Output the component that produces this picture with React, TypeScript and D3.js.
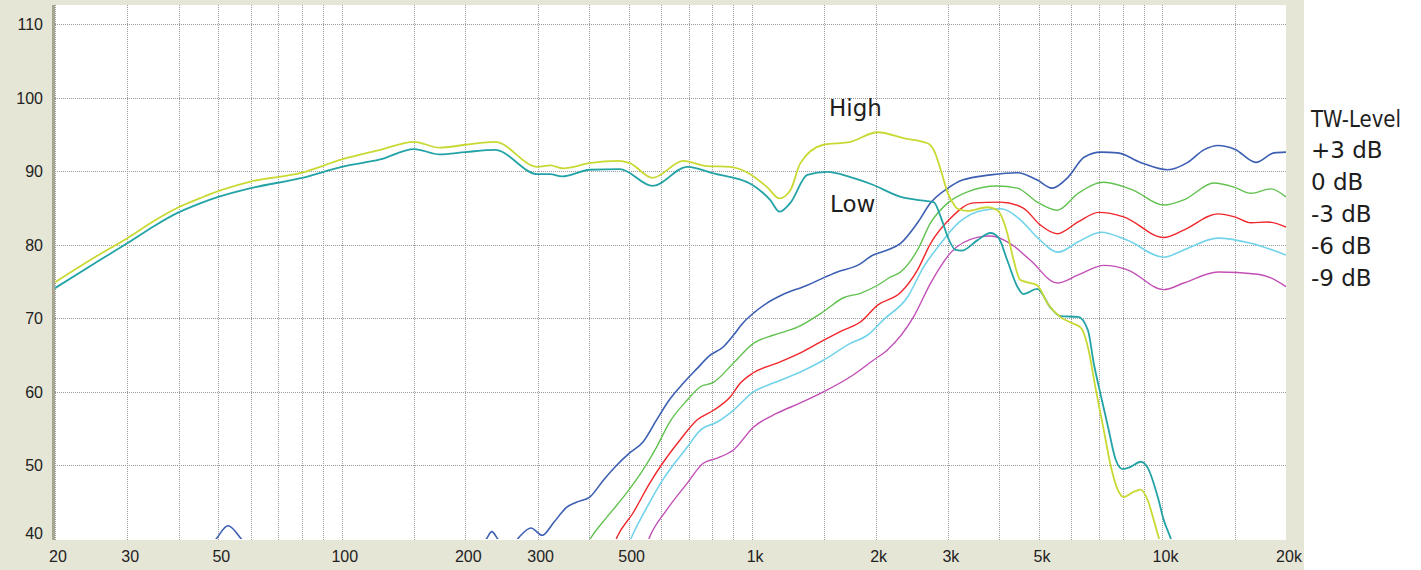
import React, { useEffect, useRef } from 'react';
import * as d3 from 'd3';

// frequency response curves, [Hz, dB]
const high: [number, number][] = [
  [20, 74.9], [25, 78.3], [30, 80.9], [35, 83.3], [40, 85.1], [45, 86.3], [50, 87.3],
  [60, 88.6], [80, 89.8], [100, 91.6], [124, 92.9], [150, 94.0], [173, 93.2], [200, 93.6],
  [236, 94.0], [300, 90.6], [322, 90.8], [346, 90.4], [402, 91.1], [470, 91.4], [503, 91.1],
  [572, 89.1], [680, 91.4], [777, 90.7], [884, 90.6], [990, 89.6], [1089, 87.8],
  [1166, 86.3], [1239, 87.4], [1311, 91.1], [1491, 93.6], [1735, 94.0], [2022, 95.3],
  [2339, 94.5], [2677, 93.8], [2770, 92.9], [2881, 90.2], [3000, 87.0], [3100, 85.5],
  [3165, 84.9], [3348, 84.6], [3745, 85.1], [3957, 84.7], [4185, 81.6], [4320, 78.3],
  [4505, 75.2], [4685, 74.9], [4952, 74.5], [5240, 72.1], [5630, 70.2], [5990, 69.4],
  [6330, 68.7], [6580, 66.1], [6880, 60.3], [7170, 55.2], [7490, 49.8], [7780, 46.7],
  [8040, 45.7], [8500, 46.4], [8845, 46.7], [9200, 45.3], [9520, 42.6], [9800, 40.1],
  [10200, 36.5],
];

const low: [number, number][] = [
  [20, 74.1], [25, 77.5], [30, 80.2], [35, 82.6], [40, 84.4], [45, 85.6], [50, 86.5],
  [60, 87.7], [80, 89.1], [100, 90.6], [124, 91.6], [150, 93.0], [173, 92.3], [200, 92.6],
  [236, 92.9], [300, 89.6], [322, 89.6], [344, 89.3], [402, 90.2], [476, 90.3], [572, 88.0],
  [695, 90.6], [805, 89.7], [990, 88.3], [1106, 86.1], [1166, 84.5], [1239, 85.7],
  [1363, 89.5], [1524, 89.9], [1735, 89.2], [1940, 88.3], [2339, 86.4], [2618, 86.0],
  [2770, 85.8], [2881, 83.8], [3000, 81.0], [3130, 79.3], [3240, 79.2], [3535, 80.6],
  [3810, 81.6], [3980, 81.0], [4185, 77.9], [4430, 74.3], [4580, 73.3], [4952, 74.0],
  [5330, 71.5], [5630, 70.3], [6230, 70.2], [6580, 68.4], [6800, 63.9], [7090, 59.3],
  [7370, 55.2], [7700, 50.7], [8000, 49.5], [8360, 49.8], [8845, 50.5], [9200, 49.7],
  [9740, 45.7], [10070, 42.6], [10470, 40.1], [11000, 36.5],
];

const twPlus3: [number, number][] = [
  [40, 33], [49.4, 40], [52.8, 41.8], [56.9, 40], [66, 35], [150, 33], [212, 38],
  [225, 40], [232, 41], [240, 40], [255, 38.5], [271, 40.3], [289, 41.5], [308, 40.5],
  [328, 42.2], [353, 44.3], [373, 45.0], [402, 45.7], [434, 48.0], [469, 50.1], [503, 51.7],
  [542, 53.2], [585, 56.2], [628, 58.9], [680, 61.2], [735, 63.2], [790, 65.0], [850, 66.1],
  [900, 67.7], [951, 69.4], [1007, 70.7], [1089, 72.1], [1185, 73.2], [1363, 74.5],
  [1491, 75.5], [1613, 76.3], [1805, 77.2], [1973, 78.6], [2136, 79.3], [2300, 80.2],
  [2530, 83.0], [2723, 85.7], [3000, 87.7], [3255, 88.8], [3810, 89.5], [4430, 89.8],
  [4952, 88.8], [5380, 87.7], [5890, 89.2], [6440, 91.9], [7090, 92.6], [7780, 92.5],
  [8840, 91.2], [10300, 90.2], [11520, 91.2], [12610, 92.9], [13650, 93.5], [15000, 93.0],
  [16900, 91.2], [18700, 92.5], [20000, 92.6],
];

const tw0: [number, number][] = [
  [360, 35], [406, 40.3], [443, 43.0], [495, 46.3], [542, 49.4], [585, 52.5], [628, 55.8],
  [695, 58.9], [748, 60.7], [805, 61.3], [900, 63.9], [1007, 66.6], [1125, 67.7],
  [1289, 68.8], [1491, 70.9], [1668, 72.8], [1836, 73.4], [2022, 74.5], [2171, 75.6],
  [2300, 76.3], [2530, 79.3], [2723, 83.0], [3000, 85.7], [3348, 87.2], [3957, 88.0],
  [4430, 87.7], [4952, 85.8], [5540, 84.7], [6230, 87.0], [7200, 88.5], [8500, 87.4],
  [10070, 85.4], [11270, 86.1], [13350, 88.4], [15000, 87.8], [16430, 87.0], [18370, 87.6],
  [20000, 86.5],
];

const twMinus3: [number, number][] = [
  [440, 36], [469, 40.3], [512, 43.5], [563, 47.6], [605, 50.3], [668, 53.5], [735, 56.2],
  [805, 57.5], [884, 59.3], [936, 61.2], [1007, 62.6], [1150, 63.9], [1311, 65.3],
  [1491, 67.0], [1668, 68.4], [1836, 69.5], [2022, 71.8], [2300, 73.5], [2530, 76.6],
  [2723, 80.2], [3044, 83.6], [3463, 85.7], [4025, 85.8], [4580, 85.0], [5036, 82.7],
  [5540, 81.5], [6230, 83.1], [6995, 84.4], [8040, 83.8], [10070, 81.0], [11270, 82.0],
  [13650, 84.2], [15000, 83.8], [16430, 83.0], [18050, 83.1], [20000, 82.4],
];

const twMinus6: [number, number][] = [
  [475, 36], [509, 40.3], [554, 44.3], [605, 48.0], [695, 52.5], [748, 54.8], [822, 55.9],
  [900, 57.5], [1007, 60.0], [1125, 61.2], [1311, 62.7], [1491, 64.3], [1735, 66.6],
  [1909, 67.7], [2088, 69.8], [2392, 72.9], [2618, 77.0], [2881, 80.2], [3200, 83.1],
  [3664, 84.7], [4025, 84.9], [4505, 83.4], [4952, 81.0], [5570, 79.0], [6230, 80.4],
  [7090, 81.7], [8220, 80.6], [10070, 78.3], [11270, 79.3], [13650, 80.9], [16430, 80.2],
  [20000, 78.6],
];

const twMinus9: [number, number][] = [
  [530, 36], [563, 40.3], [618, 43.9], [695, 47.6], [760, 50.3], [822, 51.0], [900, 52.1],
  [1007, 55.2], [1150, 57.1], [1311, 58.5], [1491, 60.0], [1763, 62.3], [1973, 64.3],
  [2136, 65.7], [2474, 70.2], [2723, 74.8], [3044, 78.9], [3535, 81.0], [3810, 81.2],
  [4250, 80.2], [4765, 77.9], [5540, 74.8], [6230, 75.9], [7200, 77.2], [8220, 76.6],
  [10070, 73.9], [11270, 74.8], [13650, 76.3], [17070, 76.0], [18370, 75.5], [20000, 74.3],
];

const legendTitle = 'TW-Level';
const legendLabels = ['+3 dB', '0 dB', '-3 dB', '-6 dB', '-9 dB'];
const xTickLabels = [20, 30, 50, 100, 200, 300, 500, 1000, 2000, 3000, 5000, 10000, 20000];
const xGrid = [
  20, 30, 40, 50, 60, 70, 80, 90, 100, 150, 200, 300, 400, 500, 600, 700, 800, 900,
  1000, 1500, 2000, 3000, 4000, 5000, 6000, 7000, 8000, 9000, 10000, 15000,
];
const yTicks = [40, 50, 60, 70, 80, 90, 100, 110];

const curves = [
  { data: high, color: '#c9d934', width: 1.8 },
  { data: low, color: '#23a3a6', width: 1.8 },
  { data: twPlus3, color: '#3c5fb3', width: 1.6 },
  { data: tw0, color: '#62c250', width: 1.4 },
  { data: twMinus3, color: '#f0262b', width: 1.4 },
  { data: twMinus6, color: '#72d3ea', width: 1.6 },
  { data: twMinus9, color: '#c24fb6', width: 1.4 },
];

const W = 1421;
const H = 570;
const plot = { left: 55, right: 1286, top: 5, bottom: 539 };

const App = () => {
  const ref = useRef<SVGSVGElement>(null);

  useEffect(() => {
    const svg = d3.select(ref.current);
    svg.selectAll('*').remove();

    const x = d3.scaleLog().domain([20, 20000]).range([plot.left, plot.right]);
    const y = d3.scaleLinear().domain([40, 112.6]).range([plot.bottom, plot.top]);

    // frame
    svg.append('rect').attr('width', W).attr('height', H).attr('fill', '#fff');
    svg.append('rect').attr('width', 1304).attr('height', H).attr('fill', '#e6e6d7');
    svg
      .append('rect')
      .attr('x', plot.left)
      .attr('y', plot.top)
      .attr('width', plot.right - plot.left)
      .attr('height', plot.bottom + 1 - plot.top)
      .attr('fill', '#fff');
    svg
      .append('rect')
      .attr('x', 52)
      .attr('y', plot.top)
      .attr('width', 3)
      .attr('height', plot.bottom + 1 - plot.top)
      .attr('fill', '#a9a794');

    // grid
    const grid = svg.append('g').attr('stroke', '#9a9a9a').attr('stroke-dasharray', '1,1');
    grid
      .selectAll('line.v')
      .data(xGrid)
      .join('line')
      .attr('x1', (d) => Math.round(x(d)) + 0.5)
      .attr('x2', (d) => Math.round(x(d)) + 0.5)
      .attr('y1', plot.top)
      .attr('y2', plot.bottom + 1);
    grid
      .selectAll('line.h')
      .data(yTicks.filter((d) => d > 40))
      .join('line')
      .attr('x1', plot.left)
      .attr('x2', plot.right)
      .attr('y1', (d) => Math.round(y(d)) + 0.5)
      .attr('y2', (d) => Math.round(y(d)) + 0.5);

    // axis labels
    svg
      .append('g')
      .attr('font-family', '"Liberation Sans", Arial, sans-serif')
      .attr('font-size', 16)
      .attr('fill', '#222')
      .selectAll('text')
      .data(yTicks)
      .join('text')
      .attr('x', 43)
      .attr('y', (d) => Math.min(y(d), 533) + 6)
      .attr('text-anchor', 'end')
      .text((d) => d);

    svg
      .append('g')
      .attr('font-family', '"Liberation Sans", Arial, sans-serif')
      .attr('font-size', 16)
      .attr('fill', '#222')
      .selectAll('text')
      .data(xTickLabels)
      .join('text')
      .attr('x', (d) => x(d) + 3)
      .attr('y', 562)
      .attr('text-anchor', 'middle')
      .text((d) => (d >= 1000 ? `${d / 1000}k` : `${d}`));

    // curves
    svg
      .append('clipPath')
      .attr('id', 'plotClip')
      .append('rect')
      .attr('x', plot.left)
      .attr('y', plot.top)
      .attr('width', plot.right - plot.left)
      .attr('height', plot.bottom - plot.top);

    const line = d3
      .line<[number, number]>()
      .x((d) => x(d[0]))
      .y((d) => y(d[1]))
      .curve(d3.curveMonotoneX);

    const g = svg.append('g').attr('clip-path', 'url(#plotClip)');
    // TW curves first, then the two reference curves on top
    [2, 3, 4, 5, 6, 1, 0].forEach((i) => {
      const c = curves[i];
      g.append('path')
        .datum(c.data)
        .attr('d', line)
        .attr('fill', 'none')
        .attr('stroke', c.color)
        .attr('stroke-width', c.width)
        .attr('stroke-linejoin', 'round');
    });

    // annotations
    const label = svg
      .append('g')
      .attr('font-family', '"DejaVu Sans", sans-serif')
      .attr('font-size', 23)
      .attr('fill', '#1e1e1e');
    label.append('text').attr('x', 829).attr('y', 116).text('High');
    label.append('text').attr('x', 830).attr('y', 212).text('Low');

    label
      .append('text')
      .attr('x', 1311)
      .attr('y', 127)
      .attr('textLength', 90)
      .attr('lengthAdjust', 'spacingAndGlyphs')
      .text(legendTitle);
    label
      .selectAll('text.item')
      .data(legendLabels)
      .join('text')
      .attr('class', 'item')
      .attr('x', 1311)
      .attr('y', (d, i) => 158 + i * 32)
      .text((d) => d);
  }, []);

  return (
    <svg
      ref={ref}
      width={W}
      height={H}
      style={{ position: 'absolute', left: 0, top: 0, display: 'block' }}
    />
  );
};

export default App;
